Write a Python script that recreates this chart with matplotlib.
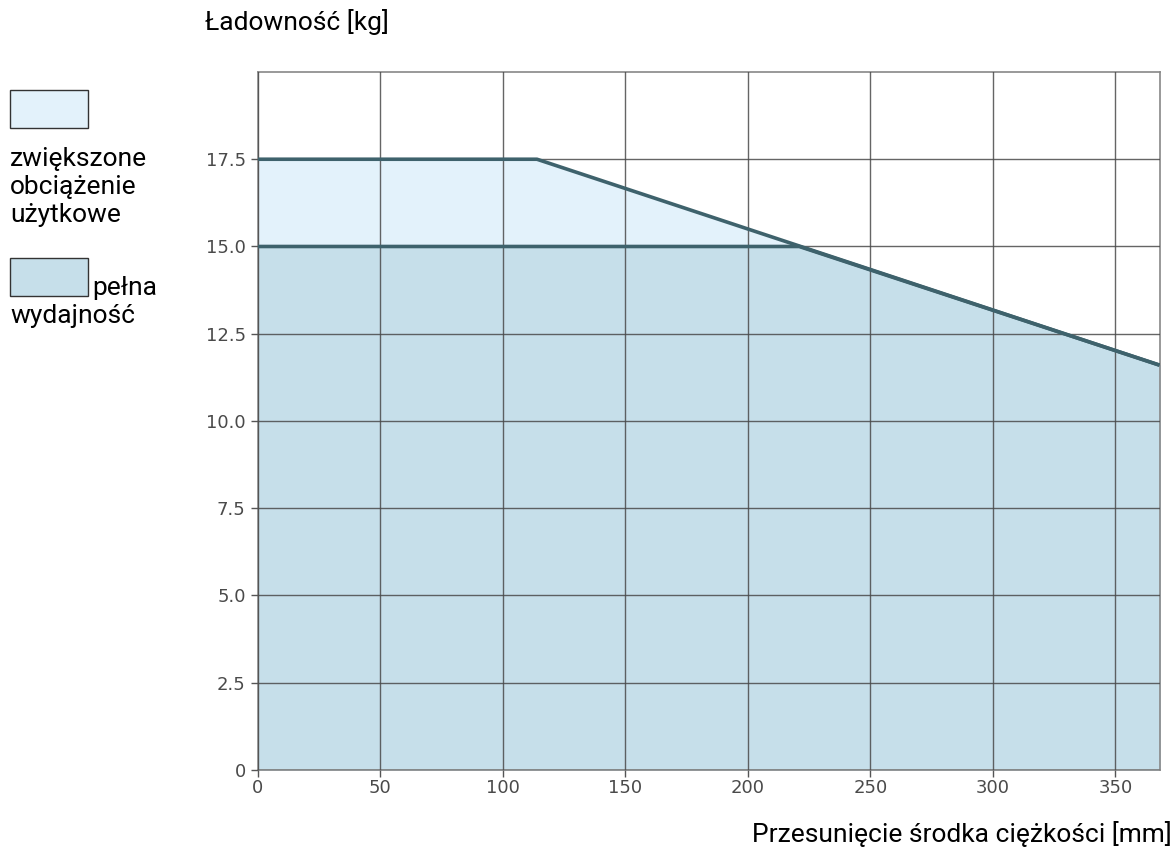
import numpy as np
import matplotlib.pyplot as plt
from matplotlib.patches import Rectangle

# dane
x_zwiekszone = [0, 114, 368]
y_zwiekszone = [17.5, 17.5, 11.6]
x_pelna = [0, 221, 368]
y_pelna = [15.0, 15.0, 11.6]

x_ticks = [0, 50, 100, 150, 200, 250, 300, 350]
y_ticks = [0, 2.5, 5.0, 7.5, 10.0, 12.5, 15.0, 17.5]
y_ticklabels = ['0', '2.5', '5.0', '7.5', '10.0', '12.5', '15.0', '17.5']

fill_light = '#e3f2fb'
fill_dark = '#c6dfea'
line_col = '#3e626c'

fig = plt.figure(figsize=(11.76, 8.56), dpi=100)
ax = fig.add_axes([0.219, 0.1005, 0.767, 0.8154])

ax.fill_between(x_zwiekszone, y_zwiekszone, color=fill_light, zorder=1)
ax.fill_between(x_pelna, y_pelna, color=fill_dark, zorder=2)
ax.plot(x_zwiekszone, y_zwiekszone, color=line_col, lw=2.6, zorder=4, solid_capstyle='butt')
ax.plot(x_pelna, y_pelna, color=line_col, lw=2.6, zorder=4, solid_capstyle='butt')

ax.set_xlim(0, 368)
ax.set_ylim(0, 20)
ax.set_xticks(x_ticks)
ax.set_yticks(y_ticks)
ax.set_yticklabels(y_ticklabels)
ax.tick_params(colors='#555555', labelsize=13, length=5, width=1, labelcolor='#4a4a4a')
ax.tick_params(axis='x', pad=1.5)
ax.grid(True, color='#4a4a4a', lw=1, alpha=0.85, zorder=3)
ax.set_axisbelow(False)
for s in ax.spines.values():
    s.set_color('#888888')
    s.set_linewidth(1.2)

fnt = 'Roboto'
fs = 19
fig.text(205 / 1176, 1 - 22 / 856, 'Ładowność [kg]', fontsize=fs, family=fnt,
         ha='left', va='center')
fig.text(1172 / 1176, 1 - 834 / 856, 'Przesunięcie środka ciężkości [mm]', fontsize=fs,
         family=fnt, ha='right', va='center')

# legenda
fig.patches.append(Rectangle((10 / 1176, 1 - 128 / 856), 78 / 1176, 38 / 856,
                             transform=fig.transFigure, facecolor=fill_light,
                             edgecolor='#333333', lw=1))
fig.patches.append(Rectangle((10 / 1176, 1 - 296 / 856), 78 / 1176, 38 / 856,
                             transform=fig.transFigure, facecolor=fill_dark,
                             edgecolor='#333333', lw=1))
fig.text(10 / 1176, 1 - 159 / 856, 'zwiększone', fontsize=fs, family=fnt, va='center')
fig.text(10 / 1176, 1 - 187 / 856, 'obciążenie', fontsize=fs, family=fnt, va='center')
fig.text(10 / 1176, 1 - 215 / 856, 'użytkowe', fontsize=fs, family=fnt, va='center')
fig.text(92 / 1176, 1 - 288 / 856, 'pełna', fontsize=fs, family=fnt, va='center')
fig.text(10 / 1176, 1 - 316 / 856, 'wydajność', fontsize=fs, family=fnt, va='center')

plt.savefig('out.png', dpi=100)
